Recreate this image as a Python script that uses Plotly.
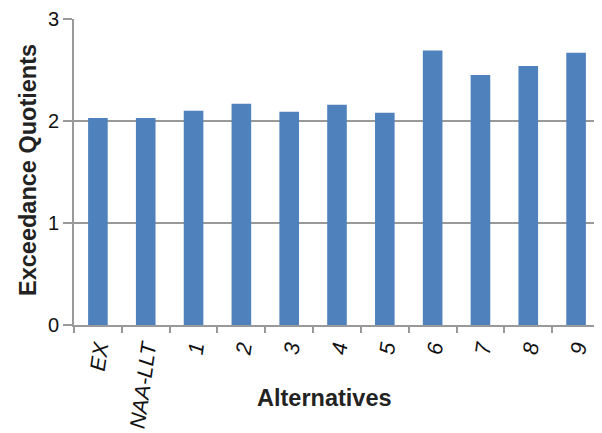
import plotly.graph_objects as go

categories = ["EX", "NAA-LLT", "1", "2", "3", "4", "5", "6", "7", "8", "9"]
values = [2.03, 2.03, 2.10, 2.17, 2.09, 2.16, 2.08, 2.69, 2.45, 2.54, 2.67]
y_ticks = [0, 1, 2, 3]

fig = go.Figure(go.Bar(x=categories, y=values, marker=dict(color="#4F81BD", line=dict(width=0)), width=0.41))

# the page body has an 8px margin, so the figure is shrunk and shifted to compensate
fig.update_layout(
    width=594, height=425,
    margin=dict(l=66, r=2, t=11, b=108),
    plot_bgcolor="white", paper_bgcolor="white",
    font=dict(family="Arial, Liberation Sans", color="#222"),
    showlegend=False,
    annotations=[
        dict(text="<b>Alternatives</b>", xref="paper", yref="paper", x=0.477, y=-0.2386,
             xanchor="center", yanchor="middle", showarrow=False,
             font=dict(size=23.5, color="#222")),
        dict(text="<b>Exceedance Quotients</b>", xref="paper", yref="paper", x=-0.0875, y=0.5065,
             xanchor="center", yanchor="middle", showarrow=False, textangle=-90,
             font=dict(size=23.5, color="#222")),
    ],
)
fig.update_xaxes(
    type="category", automargin=False,
    tickangle=-82,
    tickfont=dict(size=21.5, color="#111", style="italic"),
    showline=True, linecolor="#999", linewidth=2,
    ticks="outside", ticklen=6, tickcolor="#999", tickwidth=2,
    tickson="boundaries",
)
fig.update_yaxes(
    range=[0, 3], tickvals=y_ticks, automargin=False,
    tickfont=dict(size=20, color="#111"),
    showgrid=True, gridcolor="#999", gridwidth=2,
    showline=True, linecolor="#999", linewidth=2,
    ticks="outside", ticklen=9, tickcolor="#999", tickwidth=2,
    zeroline=False,
)

fig.write_html("out.html")
